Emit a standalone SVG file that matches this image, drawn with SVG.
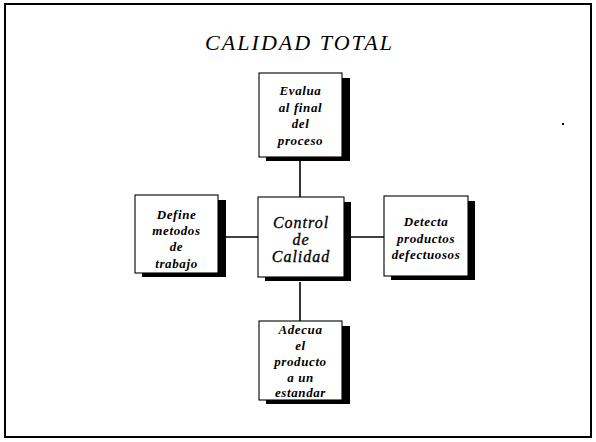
<svg xmlns="http://www.w3.org/2000/svg" width="596" height="442" viewBox="0 0 596 442">
  <style>
    .frame { fill: #fff; stroke: #000; stroke-width: 2; }
    .shadow { fill: #000; }
    .box { fill: #fff; stroke: #000; stroke-width: 1.1; }
    .lbl { font-family: "Liberation Serif", "Times New Roman", serif; font-style: italic; font-weight: bold; font-size: 13px; letter-spacing: 0.6px; text-anchor: middle; fill: #000; }
    .core { font-size: 16px; letter-spacing: 1px; font-weight: normal; stroke: #000; stroke-width: 0.3; }
    .title { font-family: "Liberation Serif", "Times New Roman", serif; font-style: italic; font-size: 22px; fill: #000; }
    .link { stroke: #000; stroke-width: 1.6; fill: none; }
  </style>

  <!-- page frame -->
  <rect class="frame" x="5" y="4" width="586" height="433"/>
  <text class="title" x="205" y="50" textLength="187" lengthAdjust="spacing">CALIDAD  TOTAL</text>
  <rect x="562" y="123" width="2" height="2" fill="#000"/>

  <!-- connectors -->
  <g id="connectors">
    <line class="link" x1="300" y1="160" x2="300" y2="197"/>
    <line class="link" x1="225" y1="237" x2="258" y2="237"/>
    <line class="link" x1="351" y1="237" x2="384" y2="237"/>
    <line class="link" x1="300" y1="282" x2="300" y2="321"/>
  </g>

  <!-- upper node -->
  <g id="node-evalua">
    <rect class="shadow" x="266" y="78" width="84" height="83"/>
    <rect class="box" x="259" y="73" width="83" height="84"/>
    <text class="lbl" x="300.5" y="95">Evalua</text>
    <text class="lbl" x="300.5" y="112">al final</text>
    <text class="lbl" x="300.5" y="128">del</text>
    <text class="lbl" x="300.5" y="145">proceso</text>
  </g>

  <!-- central node -->
  <g id="node-control">
    <rect class="shadow" x="265" y="202" width="86" height="79"/>
    <rect class="box" x="258" y="197" width="86" height="80"/>
    <text class="lbl core" x="301" y="228">Control</text>
    <text class="lbl core" x="301" y="245">de</text>
    <text class="lbl core" x="301" y="262">Calidad</text>
  </g>

  <!-- left node -->
  <g id="node-define">
    <rect class="shadow" x="142" y="200" width="84" height="77"/>
    <rect class="box" x="135" y="195" width="83" height="78"/>
    <text class="lbl" x="176.5" y="219">Define</text>
    <text class="lbl" x="176.5" y="235">metodos</text>
    <text class="lbl" x="176.5" y="251">de</text>
    <text class="lbl" x="176.5" y="268">trabajo</text>
  </g>

  <!-- right node -->
  <g id="node-detecta">
    <rect class="shadow" x="391" y="201" width="84" height="79"/>
    <rect class="box" x="384" y="196" width="84" height="80"/>
    <text class="lbl" x="426" y="226">Detecta</text>
    <text class="lbl" x="426" y="243">productos</text>
    <text class="lbl" x="426" y="259">defectuosos</text>
  </g>

  <!-- lower node -->
  <g id="node-adecua">
    <rect class="shadow" x="266" y="326" width="84" height="78"/>
    <rect class="box" x="259" y="321" width="83" height="79"/>
    <text class="lbl" x="300.5" y="334">Adecua</text>
    <text class="lbl" x="300.5" y="350">el</text>
    <text class="lbl" x="300.5" y="366">producto</text>
    <text class="lbl" x="300.5" y="382">a un</text>
    <text class="lbl" x="300.5" y="397">estandar</text>
  </g>
</svg>
